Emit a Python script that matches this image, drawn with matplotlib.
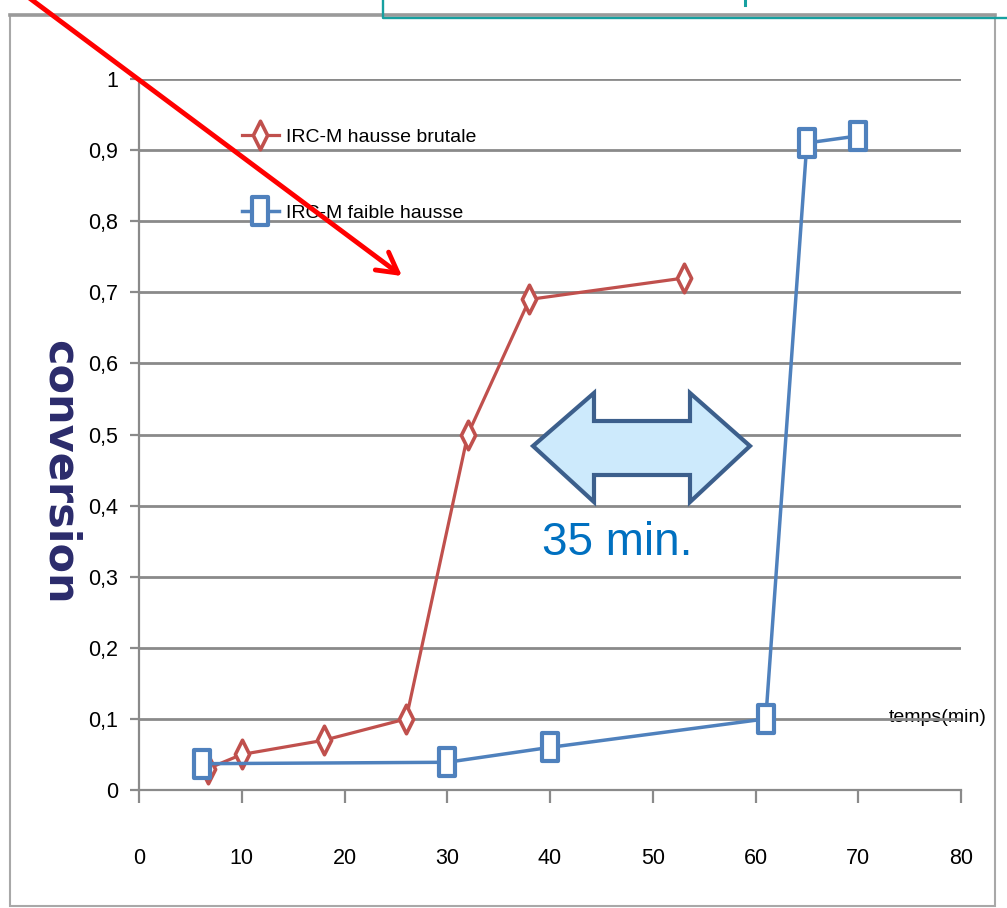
import matplotlib
matplotlib.use("Agg")
import matplotlib.pyplot as plt
from matplotlib.patches import Polygon, FancyArrowPatch, ArrowStyle, Rectangle
from matplotlib.lines import Line2D
from matplotlib.path import Path

# Conversion vs time for the two heating profiles
time_brutale = [6.7, 10, 18, 26, 32, 38, 53]
conv_brutale = [0.03, 0.05, 0.07, 0.10, 0.50, 0.69, 0.72]
time_faible = [6.1, 30, 40, 61, 65, 70]
conv_faible = [0.037, 0.039, 0.06, 0.10, 0.91, 0.92]

x_ticks = [0, 10, 20, 30, 40, 50, 60, 70, 80]
y_ticks = [0, 0.1, 0.2, 0.3, 0.4, 0.5, 0.6, 0.7, 0.8, 0.9, 1.0]
y_tick_labels = ["0", "0,1", "0,2", "0,3", "0,4", "0,5", "0,6", "0,7", "0,8", "0,9", "1"]
series_labels = ["IRC-M hausse brutale", "IRC-M faible hausse"]
x_title = "temps(min)"
y_title = "conversion"
gap_label = "35 min."

RED = "#c0504d"
BLUE = "#4f81bd"
GRID = "#8a8a8a"

plt.rcParams["font.family"] = ["Liberation Sans", "DejaVu Sans"]

W, H, DPI = 1007, 908, 100
fig = plt.figure(figsize=(W / DPI, H / DPI), dpi=DPI)


def fx(x):
    return x / W


def fy(y):
    return 1 - y / H


def closed_marker(pts):
    return Path(pts + [pts[0]], closed=True)


ax = fig.add_axes([fx(139), fy(790), (961 - 139) / W, (790 - 79) / H])

diamond = closed_marker([(0, 1), (0.5, 0), (0, -1), (-0.5, 0)])
tall_box = closed_marker([(-0.55, -1), (0.55, -1), (0.55, 1), (-0.55, 1)])

ax.plot(time_brutale, conv_brutale, color=RED, lw=2.3, marker=diamond, ms=20.5,
        mfc="white", mec=RED, mew=2.6, label=series_labels[0], zorder=3)
ax.plot(time_faible, conv_faible, color=BLUE, lw=2.5, marker=tall_box, ms=20,
        mfc="white", mec=BLUE, mew=3.0, label=series_labels[1], zorder=3,
        clip_on=False)

ax.set_xlim(0, 80)
ax.set_ylim(0, 1)
ax.set_xticks(x_ticks)
ax.set_xticklabels([str(v) for v in x_ticks])
ax.set_yticks(y_ticks)
ax.set_yticklabels(y_tick_labels)

ax.grid(axis="y", color=GRID, lw=2.0)
ax.set_axisbelow(True)
for side in ("top", "right"):
    ax.spines[side].set_visible(False)
for side in ("left", "bottom"):
    ax.spines[side].set_color(GRID)
    ax.spines[side].set_linewidth(1.6)

ax.tick_params(axis="y", length=6.5, width=1.6, color=GRID, pad=8.5, labelsize=15.5)
ax.tick_params(axis="x", length=9, width=1.6, color=GRID, pad=33, labelsize=15.5)

ax.legend(loc="upper left", bbox_to_anchor=(fx(242), fy(128)),
          bbox_transform=fig.transFigure, frameon=False, fontsize=14,
          handlelength=1.9, handletextpad=0.35, labelspacing=3.0,
          borderpad=0, borderaxespad=0)

ax.set_ylabel(y_title, rotation=-90, fontsize=31, fontweight="bold",
              color="#2b2b6b", family="DejaVu Sans", ha="center", va="center")
ax.yaxis.set_label_coords((60 - 139) / 822, (790 - 472) / 711)

ax.set_xlabel(x_title, fontsize=14, ha="left", va="center",
              bbox=dict(fc="white", ec="none", pad=1.5))
ax.xaxis.set_label_coords((889 - 139) / 822, (790 - 718) / 711)

# outer frame of the chart area
fig.add_artist(Rectangle((fx(10), fy(906)), 985 / W, 891 / H, fill=False,
                         ec="#a8a8a8", lw=1.5, transform=fig.transFigure))
fig.add_artist(Line2D([fx(10), fx(995)], [fy(15), fy(15)], color="#9a9a9a",
                      lw=2.6, transform=fig.transFigure))

# teal title box edge at the top
fig.add_artist(Line2D([fx(383), fx(383), fx(1012)], [fy(-3), fy(18), fy(18)],
                      color="#17a0a0", lw=1.7, transform=fig.transFigure))
fig.add_artist(Line2D([fx(745), fx(745)], [fy(-3), fy(5)], color="#17a0a0",
                      lw=2.2, transform=fig.transFigure))

# red pointer arrow
fig.add_artist(FancyArrowPatch(
    posA=(fx(24), fy(-6)), posB=(fx(402), fy(276)), transform=fig.transFigure,
    arrowstyle=ArrowStyle("->", head_length=1.44, head_width=0.8),
    mutation_scale=10, color="#ff0000", lw=3.5, shrinkA=0, shrinkB=0,
    capstyle="round", joinstyle="round", zorder=10))

# double-headed block arrow marking the delay
arrow_px = [(533, 446), (594, 393), (594, 421), (690, 421), (690, 393),
            (750, 446), (690, 502), (690, 475), (594, 475), (594, 502)]
fig.add_artist(Polygon([(fx(x), fy(y)) for x, y in arrow_px], closed=True,
                       fc="#cdeafc", ec="#3c5f8c", lw=3, joinstyle="miter",
                       transform=fig.transFigure, zorder=5))
fig.text(fx(617), fy(555), gap_label, ha="center", va="baseline", fontsize=33,
         color="#0070c0", family=["Liberation Sans", "DejaVu Sans"], zorder=6)

fig.savefig("out.png", dpi=DPI)
